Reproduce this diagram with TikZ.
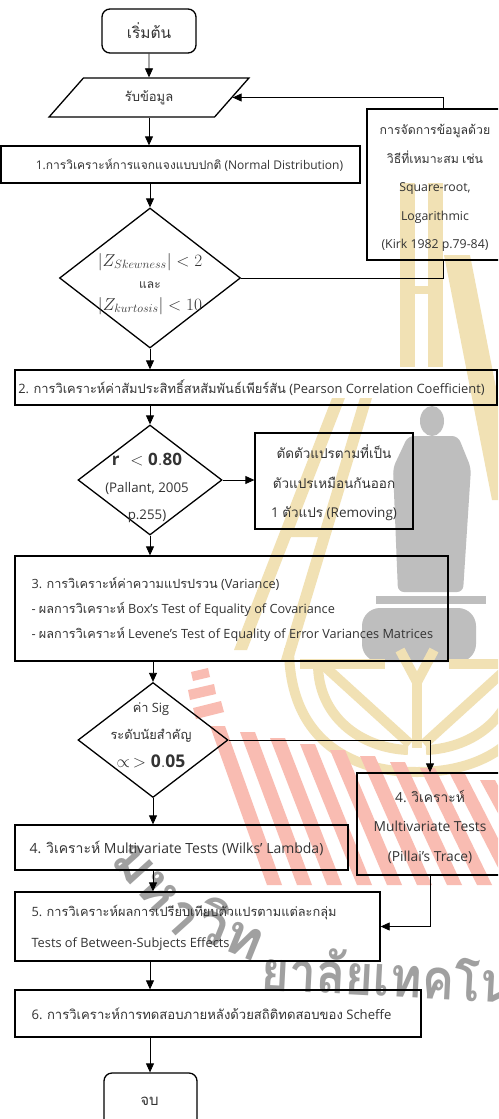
\documentclass[tikz,border=0pt]{standalone}
\usepackage{fontspec}
\setmainfont{Open Sans}
\newfontfamily\thaifont[Script=Thai]{Loma}
% Thai characters are set in Loma automatically, everything else in Open Sans
\XeTeXinterchartokenstate=1
\newXeTeXintercharclass\thaicls
\count255="0E00
\loop
  \XeTeXcharclass\count255=\thaicls
  \ifnum\count255<"0E7F \advance\count255 by 1
\repeat
\XeTeXinterchartoks 0 \thaicls = {\thaifont}
\XeTeXinterchartoks 4095 \thaicls = {\thaifont}
\XeTeXinterchartoks \thaicls 0 = {\rmfamily}
\XeTeXinterchartoks \thaicls 4095 = {\rmfamily}
\usetikzlibrary{shapes.geometric,arrows.meta,calc}

\newcommand{\fsz}[2]{\fontsize{#1}{#2}\selectfont}
\definecolor{wmgold}{RGB}{241,225,180}
\definecolor{wmgrey}{RGB}{190,190,190}
\definecolor{wmred}{RGB}{249,188,178}
\definecolor{wmtext}{RGB}{160,160,160}

\begin{document}
\begin{tikzpicture}[x=1pt,y=-1pt,
  every node/.style={text=black!80, font=\fsz{12}{14}},
  shapeline/.style={draw=black, line width=1.3pt},
  procbox/.style={shapeline, rectangle, inner sep=0pt},
  termbox/.style={shapeline, rectangle, rounded corners=8pt, inner sep=0pt},
  decision/.style={shapeline, diamond, inner sep=0pt},
  flow/.style={draw=black, line width=0.8pt, -{Triangle[length=9pt,width=8pt]}},
  joinline/.style={draw=black, line width=0.8pt},
  wmword/.style={text=wmtext, font=\thaifont\bfseries\fsz{56}{56}, inner sep=0pt}
]
\clip (0,0) rectangle (498,1119);
\fill[white] (0,0) rectangle (498,1119);

% ---------- university emblem in the background ----------
% tower
\fill[wmgold] (400,183) rectangle (415,367);
\fill[wmgold] (428,183) rectangle (443,367);
\fill[wmgold] (400,286) rectangle (443,294);
\fill[wmgold] (444,255) -- (470,255) -- (518,500) -- (492,500) -- cycle;
\fill[wmgold] (332,398) -- (345,398) -- (247,650) -- (234,650) -- cycle;
\fill[wmgold] (360,398) -- (372,398) -- (293,660) -- (281,660) -- cycle;
\fill[wmgold] (283,528) -- (326,528) -- (323,537) -- (280,537) -- cycle;
% statue on its pedestal
\fill[wmgrey] (432,421) ellipse (12 and 15);
\fill[wmgrey, rounded corners=6pt] (408,436) -- (458,436) -- (471,468) -- (463,592)
  -- (398,592) -- (393,468) -- cycle;
\fill[wmgrey] (376,596) rectangle (486,604);
\fill[wmgrey, rounded corners=18pt] (362,608) rectangle (476,662);
% leaves
\begin{scope}[draw=wmgold, line width=10pt]
  \draw (289,648) .. controls (289,735) and (345,772) .. (417,772)
                  .. controls (489,772) and (545,735) .. (545,648);
  \draw (318,664) .. controls (318,716) and (360,748) .. (408,750);
  \draw (516,664) .. controls (516,716) and (474,748) .. (426,750);
  \draw (322,664) -- (410,744);
  \draw (512,664) -- (424,744);
  \draw (300,664) -- (385,664);
  \draw (534,664) -- (449,664);
  \draw (400,650) -- (417,682) -- (434,650);
  \draw (417,682) -- (417,748);
\end{scope}
% fan of stripes
\begin{scope}[fill=wmred]
  \fill (191,672) -- (208,668) -- (210,677) -- (193,681) -- cycle;
  \fill (188,690) -- (214,684) -- (216,694) -- (190,700) -- cycle;
  \fill (193,708) -- (221,701) -- (224,712) -- (196,719) -- cycle;
  \foreach \k in {0,...,9}{
    \fill ({210+30*\k},{726+6*\k}) -- ({225+30*\k},{726+6*\k})
       -- ({282+30*\k},885) -- ({267+30*\k},885) -- cycle;
  }
\end{scope}
% arched lettering
\node[wmword, rotate=-48] (wm1) at (156,890) {มหา};
\node[wmword, rotate=-22] (wm2) at (232,928) {วิท};
\node[wmword, rotate=-3, xscale=0.86, anchor=base west] (wm3) at (260,990) {ยาลัยเทคโน};

% ---------- flowchart ----------
% start / input
\node[termbox, minimum width=94pt, minimum height=44pt, font=\fsz{15.5}{17}] (start) at (149,31) {เริ่มต้น};
\node[shapeline, trapezium, trapezium left angle=53, trapezium right angle=127,
      trapezium stretches=true, minimum width=200pt, minimum height=39pt, inner sep=2pt,
      font=\fsz{13}{15}] (inp) at (149,97.5) {รับข้อมูล};

% step 1 and the normality check
\node[procbox, minimum width=359pt, minimum height=37pt] (box1) at (180.5,164.5) {};
\node (box1text) at (189.5,165) {1.การวิเคราะห์การแจกแจงแบบปกติ (Normal Distribution)};
\node[procbox, minimum width=136pt, minimum height=151pt] (fix) at (435,184.5) {};
\node[align=center, font=\fsz{12.3}{28.5}] (fixtext) at (435,188)
  {การจัดการข้อมูลด้วย\\วิธีที่เหมาะสม เช่น\\Square-root,\\Logarithmic\\(Kirk 1982 p.79-84)};
\node[decision, minimum width=181pt, minimum height=140pt] (d1) at (150,278) {};
\node[align=center, font=\fsz{12}{22}] (d1text) at (150,284)
  {\fsz{16.5}{22}$|Z_{Skewness}| < 2$\\และ\\\fsz{16.5}{22}$|Z_{kurtosis}| < 10$};

% step 2 and the correlation check
\node[procbox, minimum width=482pt, minimum height=35pt] (box2) at (256,387.5) {};
\node[font=\fsz{12.9}{15}] (box2text) at (251.5,388)
  {2. การวิเคราะห์ค่าสัมประสิทธิ์สหสัมพันธ์เพียร์สัน (Pearson Correlation Coefficient)};
\node[decision, minimum width=144pt, minimum height=110pt] (d2) at (150,480) {};
\node[align=center, font=\fsz{13.3}{27}] (d2text) at (147,488)
  {\fsz{17}{27}$\mathbf{r}\,\,< \mathbf{0.80}$\\(Pallant, 2005\\p.255)};
\node[procbox, minimum width=158pt, minimum height=96pt] (rem) at (334,481) {};
\node[align=center, font=\fsz{13.5}{29.5}] (remtext) at (334,483)
  {ตัดตัวแปรตามที่เป็น\\ตัวแปรเหมือนกันออก\\1 ตัวแปร (Removing)};

% step 3 and the significance check
\node[procbox, minimum width=433pt, minimum height=105pt] (box3) at (231.5,608.5) {};
\node[anchor=west, align=left, font=\fsz{12.7}{25}] (box3text) at (28,609)
  {3. การวิเคราะห์ค่าความแปรปรวน (Variance)\\
   - ผลการวิเคราะห์ Box’s Test of Equality of Covariance\\
   - ผลการวิเคราะห์ Levene's Test of Equality of Error Variances Matrices};
\node[decision, minimum width=150pt, minimum height=115pt] (d3) at (153,740) {};
\node[align=center, font=\fsz{12.8}{27.5}] (d3text) at (151,735)
  {ค่า Sig\\ระดับนัยสำคัญ\\\fsz{17.5}{27.5}$\propto\,> \mathbf{0.05}$};

% step 4 (two variants), 5, 6 and end
\node[procbox, minimum width=146pt, minimum height=102pt] (pil) at (430,824) {};
\node[align=center, font=\fsz{13.8}{29.5}] (piltext) at (430,827)
  {4. วิเคราะห์\\Multivariate Tests\\(Pillai's Trace)};
\node[procbox, minimum width=333pt, minimum height=45pt] (box4) at (181.5,847.5) {};
\node[font=\fsz{14}{16}] (box4text) at (176.5,848)
  {4. วิเคราะห์ Multivariate Tests (Wilks' Lambda)};
\node[procbox, minimum width=365pt, minimum height=69pt] (box5) at (197.5,926.5) {};
\node[anchor=west, align=left, font=\fsz{12.8}{31}] (box5text) at (28,928)
  {5. การวิเคราะห์ผลการเปรียบเทียบตัวแปรตามแต่ละกลุ่ม\\Tests of Between-Subjects Effects};
\node[procbox, minimum width=406pt, minimum height=47pt] (box6) at (218,1013.5) {};
\node[anchor=west, font=\fsz{13.1}{16}] (box6text) at (28,1014)
  {6. การวิเคราะห์การทดสอบภายหลังด้วยสถิติทดสอบของ Scheffe};
\node[termbox, minimum width=93pt, minimum height=54pt] (stop) at (150.5,1100) {};
\node[font=\fsz{15}{17}] (stoptext) at (149.5,1101) {จบ};

% connectors
\draw[flow] (start.south) -- (inp.north);
\draw[flow] (inp.south) -- (inp.south |- box1.north);
\draw[flow] (d1.north |- box1.south) -- (d1.north);
\draw[joinline] (d1.east) -| ($(fix.south)+(8,0)$);
\draw[flow] ($(fix.north)+(8,0)$) |- (inp.east);
\draw[flow] (d1.south) -- (d1.south |- box2.north);
\draw[flow] (d2.north |- box2.south) -- (d2.north);
\draw[flow] (d2.east) -- (d2.east -| rem.west);
\draw[flow] (d2.south) -- (d2.south |- box3.north);
\draw[flow] (d3.north |- box3.south) -- (d3.north);
\draw[flow] (d3.east) -| (pil.north);
\draw[flow] (d3.south) -- (d3.south |- box4.north);
\draw[flow] (box4.south -| d3.south) -- (box5.north -| d3.south);
\draw[flow] (pil.south) |- (box5.east);
\draw[flow] (box5.south -| d1.south) -- (box6.north -| d1.south);
\draw[flow] (box6.south -| d1.south) -- (stop.north -| d1.south);
\end{tikzpicture}
\end{document}
